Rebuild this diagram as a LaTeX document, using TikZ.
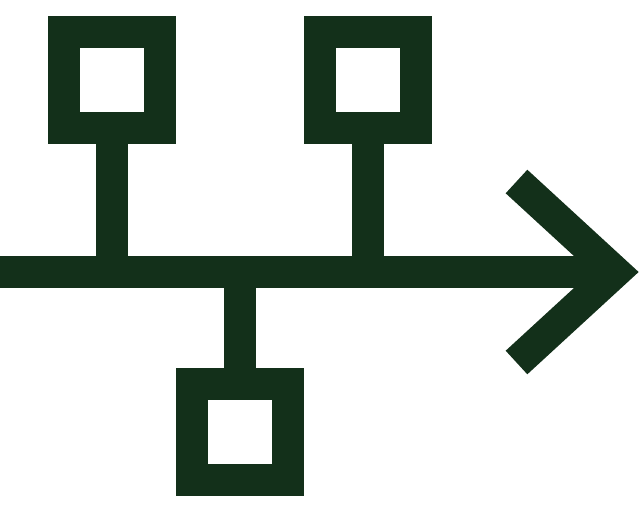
\documentclass[tikz,border=0pt]{standalone}
\usepackage{tikz}
\definecolor{icongreen}{RGB}{19,48,26}

\begin{document}
\begin{tikzpicture}[x=1pt, y=-1pt, line width=32pt, color=icongreen,
    stepbox/.style={draw, rectangle, minimum size=96pt, inner sep=0pt, outer sep=0pt}]
    \useasboundingbox (0,0) rectangle (640,512);
    \node [stepbox] (boxa) at (112,80) {};
    \node [stepbox] (boxb) at (368,80) {};
    \node [stepbox] (boxc) at (240,432) {};
    \coordinate (start) at (0,272);
    \coordinate (tip) at (615,272);
    \coordinate (armup) at (516.5,181.5);
    \coordinate (armdown) at (516.5,362.5);
    \draw (start) -- (tip);
    \draw (armup) -- (tip) -- (armdown);
    \draw (boxa.south) -- (boxa |- start);
    \draw (boxb.south) -- (boxb |- start);
    \draw (boxc.north) -- (boxc |- start);
\end{tikzpicture}
\end{document}
